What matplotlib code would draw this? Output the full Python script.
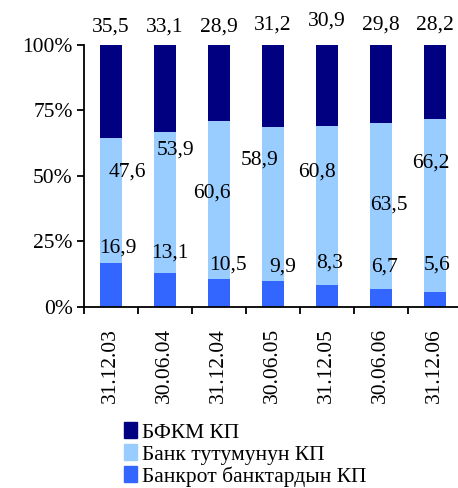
import numpy as np
import matplotlib.pyplot as plt
from matplotlib.patches import Patch

plt.rcParams['font.family'] = ['Liberation Serif', 'DejaVu Serif']

dates = ['31.12.03', '30.06.04', '31.12.04', '30.06.05', '31.12.05', '30.06.06', '31.12.06']
bankrupt = [16.9, 13.1, 10.5, 9.9, 8.3, 6.7, 5.6]
system = [47.6, 53.9, 60.6, 58.9, 60.8, 63.5, 66.2]
bfkm = [35.5, 33.1, 28.9, 31.2, 30.9, 29.8, 28.2]

names = ['БФКМ КП', 'Банк тутумунун КП', 'Банкрот банктардын КП']
colors = ['#000080', '#99CCFF', '#3366FF']

# label placement (x shift in bar units, y in percent)
low_pos = [(0.13, 22.5), (0.09, 20.6), (0.17, 16), (0.19, 15.3), (0.06, 16.8), (0.07, 15.3), (0.04, 16)]
mid_pos = [(0.31, 51.5), (0.19, 60), (-0.13, 43.5), (-0.24, 56), (-0.19, 51.5), (0.15, 39), (-0.07, 55)]
top_y = [107, 107, 107, 107.5, 109, 107.5, 107.5]

x = np.arange(len(dates))
tot = np.array(bankrupt) + np.array(system) + np.array(bfkm)
b = np.array(bankrupt) / tot * 100
s = np.array(system) / tot * 100
f = np.array(bfkm) / tot * 100

fig = plt.figure(figsize=(4.58, 4.88), dpi=100)
ax = fig.add_axes([0.183, 0.371, 0.817, 0.537])
w = 0.41
ax.bar(x, b, w, color=colors[2])
ax.bar(x, s, w, bottom=b, color=colors[1])
ax.bar(x, f, w, bottom=b + s, color=colors[0])

fs = 15.5
for i in range(len(dates)):
    ax.text(x[i] + low_pos[i][0], low_pos[i][1], f'{bankrupt[i]:.1f}'.replace('.', ','),
            ha='center', va='center', fontsize=fs)
    ax.text(x[i] + mid_pos[i][0], mid_pos[i][1], f'{system[i]:.1f}'.replace('.', ','),
            ha='center', va='center', fontsize=fs)
    ax.text(x[i], top_y[i], f'{bfkm[i]:.1f}'.replace('.', ','),
            ha='center', va='center', fontsize=fs, clip_on=False)

ax.set_ylim(0, 100)
ax.set_xlim(-0.5, 6.43)
ax.set_yticks([0, 25, 50, 75, 100])
ax.set_yticklabels(['0%', '25%', '50%', '75%', '100%'], fontsize=fs)
ax.set_xticks(x)
ax.set_xticklabels(dates, rotation=90, fontsize=fs)
ax.set_xticks(np.arange(-0.5, 6.5, 1), minor=True)
ax.tick_params(axis='x', which='major', length=0, pad=15)
ax.tick_params(axis='x', which='minor', length=5, width=1.3, direction='out')
ax.tick_params(axis='y', length=5, width=1.3, direction='out', pad=3)
for sp in ['top', 'right']:
    ax.spines[sp].set_visible(False)
for sp in ['left', 'bottom']:
    ax.spines[sp].set_linewidth(1.3)

handles = [Patch(color=c) for c in colors]
fig.legend(handles, names, loc='upper left', bbox_to_anchor=(0.252, 0.153), frameon=False,
           fontsize=fs, handlelength=0.6, handleheight=0.8, handletextpad=0.25,
           labelspacing=0.06, borderaxespad=0)

fig.savefig('out.png', dpi=100)
